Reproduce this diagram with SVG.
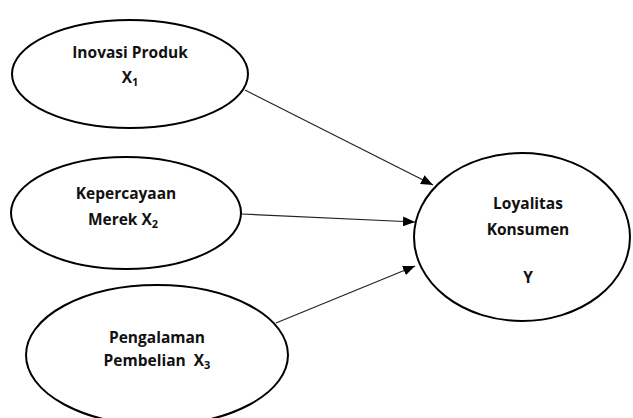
<svg xmlns="http://www.w3.org/2000/svg" width="633" height="418" viewBox="0 0 633 418">
<style>
.node ellipse{fill:#fff;stroke:#000;stroke-width:2}
.t{font-family:"Open Sans","Liberation Sans",sans-serif;font-weight:bold;font-size:15.5px;fill:#111;text-anchor:middle}
.s{font-size:11px}
.edge{stroke:#222;stroke-width:1.2;fill:none;marker-end:url(#ah)}
</style>
<defs>
<marker id="ah" viewBox="0 0 12 10" refX="12" refY="5" markerWidth="12" markerHeight="10" markerUnits="userSpaceOnUse" orient="auto">
<path d="M0,0 L12,5 L0,10 Z" fill="#000"/>
</marker>
</defs>
<g id="connectors">
<line class="edge" x1="245" y1="90" x2="433" y2="185"/>
<line class="edge" x1="241" y1="214" x2="415" y2="222"/>
<line class="edge" x1="276" y1="323" x2="415" y2="266"/>
</g>
<g id="x1" class="node">
<ellipse cx="130" cy="74" rx="118" ry="54"/>
<text class="t" x="130" y="58">Inovasi Produk</text>
<text class="t" x="130" y="83">X<tspan class="s" dy="3">1</tspan></text>
</g>
<g id="x2" class="node">
<ellipse cx="126" cy="213" rx="115" ry="56"/>
<text class="t" x="126" y="199">Kepercayaan</text>
<text class="t" x="123" y="225">Merek X<tspan class="s" dy="3">2</tspan></text>
</g>
<g id="x3" class="node">
<ellipse cx="157" cy="355" rx="131" ry="70"/>
<text class="t" x="157" y="343">Pengalaman</text>
<text class="t" x="157" y="366">Pembelian&#160; X<tspan class="s" dy="3">3</tspan></text>
</g>
<g id="y" class="node">
<ellipse cx="522" cy="237" rx="108" ry="84"/>
<text class="t" x="528" y="209">Loyalitas</text>
<text class="t" x="528" y="235">Konsumen</text>
<text class="t" x="528" y="283">Y</text>
</g>
</svg>
